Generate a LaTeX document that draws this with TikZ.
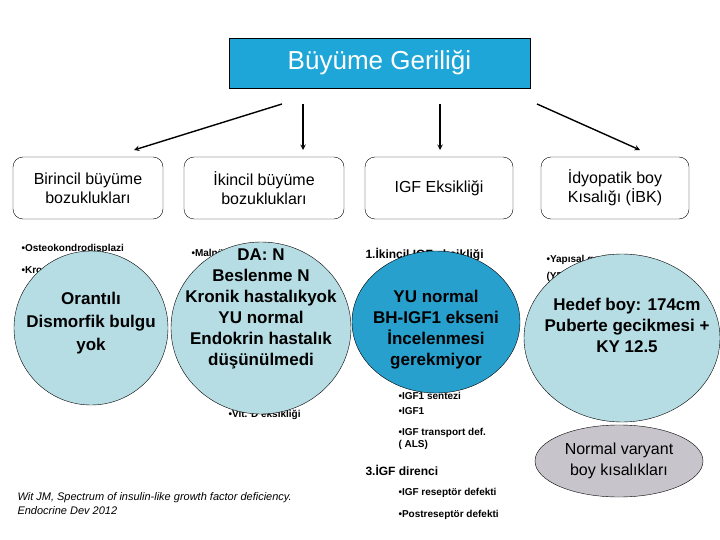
\documentclass[tikz,border=0pt]{standalone}
\usepackage{fontspec}
\setmainfont{Liberation Sans}
\usetikzlibrary{shapes.geometric}
\definecolor{titleblue}{RGB}{30,166,216}
\definecolor{lightcirc}{RGB}{182,221,228}
\definecolor{darkcirc}{RGB}{40,160,206}
\definecolor{greyoval}{RGB}{200,196,204}
\begin{document}
\begin{tikzpicture}[x=1pt,y=-1pt,
    box/.style={draw, rounded corners=10pt, minimum width=150pt, minimum height=62pt, align=center, font=\fontsize{16}{19}\selectfont},
    small/.style={anchor=west, font=\fontsize{10}{12}\selectfont\bfseries},
    circtext/.style={align=center, font=\fontsize{17}{21}\selectfont\bfseries},
    arr/.style={-stealth, line width=1.4pt}
  ]
  \useasboundingbox (0,0) rectangle (720,540);
  \node[draw, fill=titleblue, text=white, minimum width=301pt, minimum height=50pt, font=\fontsize{26}{30}\selectfont] (title) at (379.5,63) {Büyüme Geriliği};

  \node[box] (birincil) at (88,188) {Birincil büyüme\\bozuklukları};
  \node[box, minimum width=160pt] (ikincil) at (264,188) {İkincil büyüme\\bozuklukları};
  \node[box, minimum width=148pt] (igf) at (439,188) {IGF Eksikliği};
  \node[box, minimum width=148pt] (ibk) at (615,188) {İdyopatik boy\\Kısalığı (İBK)};

  \coordinate (a1) at (282,104);
  \coordinate (a2) at (303,104);
  \coordinate (a3) at (440,104);
  \coordinate (a4) at (537,104);
  \draw[arr] (a1) -- (134,150);
  \draw[arr] (a2) -- (303,150);
  \draw[arr] (a3) -- (440,150);
  \draw[arr] (a4) -- (640,150);

  % texts partly hidden by the circles
  \node[small] (t1) at (18,249) {•Osteokondrodisplazi};
  \node[small] (t2) at (18,270) {•Kromozom anomalileri};
  \node[small] (t3) at (188,254) {•Malnütrisyon};
  \node[small] (t4) at (225,415) {•Vit. D eksikliği};
  \node[small, font=\fontsize{12}{14}\selectfont\bfseries] (t5) at (362,255) {1.İkincil IGF eksikliği};
  \node[small] (t6) at (395,277) {•GH-IGF1 aks.};
  \node[small] (t7) at (395,396) {•IGF1 sentezi};
  \node[small] (t8) at (395,411) {•IGF1};
  \node[small, align=left] (t9) at (395,439) {•IGF transport def.\\( ALS)};
  \node[small, font=\fontsize{12}{14}\selectfont\bfseries] (t10) at (362,470) {3.İGF direnci};
  \node[small] (t11) at (395,493) {•IGF reseptör defekti};
  \node[small] (t12) at (395,515) {•Postreseptör defekti};
  \node[small] (t13) at (543,260) {•Yapısal gecikme};
  \node[small] (t14) at (543,277) {(YBG)};

  % circles over the lists
  \draw[fill=lightcirc] (91,328) ellipse (77 and 77);
  \draw[fill=lightcirc] (261,328) ellipse (90 and 86);
  \draw[fill=darkcirc] (436,322) ellipse (84 and 71);
  \draw[fill=lightcirc] (622,338) ellipse (98 and 84);
  \draw[fill=greyoval] (619,461) ellipse (84 and 36);

  \node[circtext, font=\fontsize{17}{23}\selectfont\bfseries] (c1) at (91,323) {Orantılı\\Dismorfik bulgu\\yok};
  \node[circtext] (c2) at (261,309) {DA: N\\Beslenme N\\Kronik hastalıkyok\\YU normal\\Endokrin hastalık\\düşünülmedi};
  \node[circtext] (c3) at (436,330) {YU normal\\BH-IGF1 ekseni\\İncelenmesi\\gerekmiyor};
  \node[circtext] (c4) at (627,325) {Hedef boy: 174cm\\Puberte gecikmesi +\\KY 12.5};
  \node[align=center, font=\fontsize{16}{21}\selectfont] (nv) at (619,461) {Normal varyant\\boy kısalıkları};

  \node[anchor=west, align=left, font=\fontsize{11}{14}\selectfont\itshape] (ref) at (14,504) {Wit JM, Spectrum of insulin-like growth factor deficiency.\\Endocrine Dev 2012};
\end{tikzpicture}
\end{document}
